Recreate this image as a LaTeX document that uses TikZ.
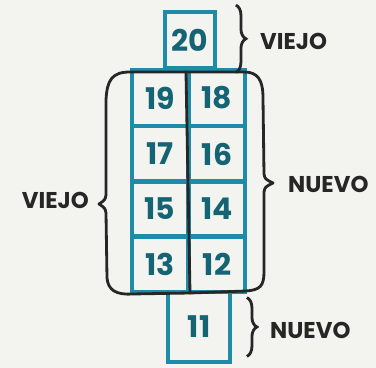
\documentclass[tikz,border=0pt]{standalone}
\usepackage{fontspec}
\setmainfont{Poppins}
\usetikzlibrary{decorations.pathreplacing}
\definecolor{inkblue}{RGB}{30,140,168}
\definecolor{inkteal}{RGB}{20,100,115}
\definecolor{paper}{RGB}{243,243,240}

\begin{document}
\begin{tikzpicture}[x=0.02cm,y=-0.02cm,
        cell/.style={draw=inkblue,line width=2.2pt,minimum width=1.13cm,minimum height=1.11cm,
            inner sep=0pt,text=inkteal,font=\fontsize{17}{20}\selectfont\bfseries},
        lbl/.style={font=\fontsize{13}{16}\selectfont\bfseries,text=black!85,anchor=west},
        brc/.style={decorate,decoration={brace,amplitude=0.2cm},line width=1.6pt,black!85},
        ink/.style={line width=1.6pt,black!85,line cap=round,line join=round}]
        \fill[paper] (0,0) rectangle (376,368);
        \useasboundingbox (0,0) rectangle (376,368);
        % grid of old and new
        \foreach \n/\x/\y in {19/160/98, 18/217/98, 17/160/154, 16/217/154,
            15/160/209, 14/217/209, 13/160/264, 12/217/264}
            \node[cell] (c\n) at (\x,\y) {\n};
        \node[cell,minimum width=1.0cm,minimum height=1.12cm] (c20) at (190,40) {20};
        \node[cell,minimum width=1.24cm,minimum height=1.4cm] (c11) at (199,327) {11};
        % black outline round the grid
        \draw[ink] (186,72) -- (130,72) .. controls (112,72) and (107,80) .. (106,100)
            -- (106,195) .. controls (105,200) .. (99,204) .. controls (105,208) .. (106,213)
            -- (107,278) .. controls (108,290) and (116,295) .. (132,294) -- (190,293);
        \draw[ink] (186,72) -- (244,72) .. controls (258,72) and (263,80) .. (263,98)
            -- (264,174) .. controls (265,179) .. (273,183) .. controls (265,187) .. (264,192)
            -- (264,272) .. controls (264,286) and (260,290) .. (246,291) -- (190,293);
        \draw[ink] (186,72) -- (190,293);
        % labels
        \draw[brc] ([xshift=0.38cm,yshift=0.1cm]c20.north east) -- ([xshift=0.38cm,yshift=-0.05cm]c20.south east);
        \node[lbl] (oldtop) at (254,41) {VIEJO};
        \node[lbl,anchor=east] (oldleft) at (95,200) {VIEJO};
        \node[lbl] (newright) at (282,184) {NUEVO};
        \draw[brc] ([xshift=0.3cm,yshift=-0.15cm]c11.north east) -- ([xshift=0.3cm,yshift=0.15cm]c11.south east);
        \node[lbl] (newbottom) at (264,330) {NUEVO};
    \end{tikzpicture}
\end{document}
